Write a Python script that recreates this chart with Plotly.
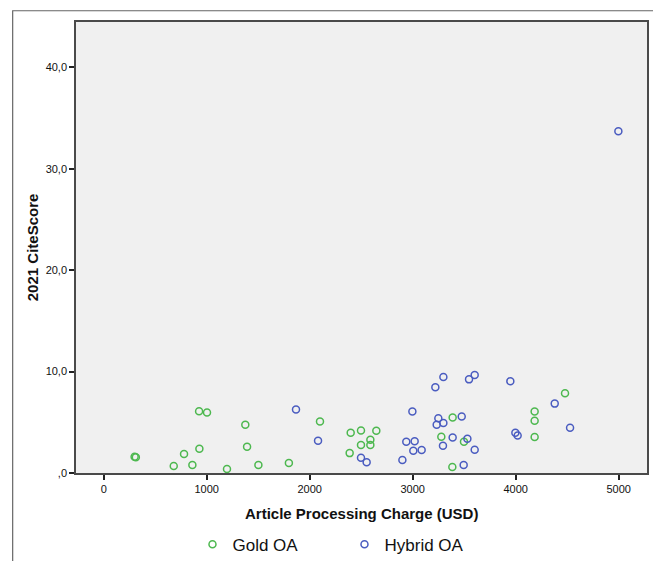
import plotly.graph_objects as go

# ---- data ----
gold_x = [300, 312, 680, 780, 861, 929, 926, 1003, 1197, 1375, 1392, 1502, 1798,
          2100, 2398, 2498, 2647, 2589, 2498, 2589, 2388, 3388, 3278, 3498, 3385,
          4479, 4184, 4184, 4184]
gold_y = [1.60, 1.55, 0.69, 1.87, 0.79, 2.39, 6.09, 5.96, 0.39, 4.75, 2.59, 0.79, 0.98,
          5.07, 3.96, 4.19, 4.16, 3.27, 2.75, 2.75, 1.96, 5.47, 3.57, 3.08, 0.59,
          7.86, 6.06, 5.14, 3.54]

hybrid_x = [1867, 2081, 2498, 2553, 2997, 2938, 3019, 3006, 3087, 2900, 3249, 3233,
            3298, 3476, 3294, 3388, 3531, 3602, 3495, 3220, 3298, 3547, 3602, 3948,
            4379, 3997, 4019, 4528, 4997]
hybrid_y = [6.25, 3.18, 1.51, 1.05, 6.06, 3.08, 3.14, 2.19, 2.26, 1.28, 5.40, 4.75,
            4.94, 5.57, 2.68, 3.51, 3.37, 2.29, 0.79, 8.45, 9.46, 9.23, 9.66, 9.04,
            6.84, 3.96, 3.70, 4.45, 33.7]

x_ticks = [0, 1000, 2000, 3000, 4000, 5000]
y_ticks = [0, 10, 20, 30, 40]
y_tick_text = [",0", "10,0", "20,0", "30,0", "40,0"]

GREEN = "#4DB84F"
BLUE = "#4A5CC0"
FONT = "Liberation Sans, Arial, sans-serif"

fig = go.Figure()
fig.add_trace(go.Scatter(
    x=gold_x, y=gold_y, mode="markers", name="Gold OA", cliponaxis=False,
    marker=dict(symbol="circle-open", size=7, color=GREEN, line=dict(width=1.5, color=GREEN)),
))
fig.add_trace(go.Scatter(
    x=hybrid_x, y=hybrid_y, mode="markers", name="Hybrid OA", cliponaxis=False,
    marker=dict(symbol="circle-open", size=7, color=BLUE, line=dict(width=1.5, color=BLUE)),
))

axis_common = dict(
    showgrid=False, zeroline=False, showline=True, mirror=True,
    linecolor="#4a4a4a", linewidth=1.5,
    ticks="outside", ticklen=5, tickwidth=1.5, tickcolor="#222",
    tickfont=dict(family=FONT, size=11, color="#111"),
)

# the page body adds an 8px offset, so the figure is 8px smaller on each leading side
fig.update_layout(
    width=653, height=553,
    margin=dict(l=68, r=14, t=14, b=88, autoexpand=False),
    paper_bgcolor="white", plot_bgcolor="#F0F0F0",
    font=dict(family=FONT, color="#111"),
    xaxis=dict(range=[-269, 5275], tickvals=x_ticks, ticktext=[str(v) for v in x_ticks], **axis_common),
    yaxis=dict(range=[0, 44.46], tickvals=y_ticks, ticktext=y_tick_text, **axis_common),
    showlegend=True,
    legend=dict(orientation="h", x=0.204, xanchor="left", y=-0.159, yanchor="middle",
                font=dict(family=FONT, size=17, color="#111"),
                entrywidth=107, entrywidthmode="pixels", bgcolor="rgba(0,0,0,0)"),
    annotations=[
        dict(text="<b>Article Processing Charge (USD)</b>", xref="paper", yref="paper",
             x=0.5, y=-0.0902, xanchor="center", yanchor="middle", showarrow=False,
             font=dict(family=FONT, size=15, color="#111")),
        dict(text="<b>2021 CiteScore</b>", xref="paper", yref="paper",
             x=-0.0758, y=0.5, xanchor="center", yanchor="middle", textangle=-90,
             showarrow=False, font=dict(family=FONT, size=15, color="#111")),
    ],
    shapes=[
        dict(type="rect", xref="paper", yref="paper", x0=-0.1109, x1=1.0175,
             y0=-0.25, y1=1.025, line=dict(color="#666", width=1.2), fillcolor="rgba(0,0,0,0)",
             layer="below"),
    ],
)

fig.write_html("out.html")
